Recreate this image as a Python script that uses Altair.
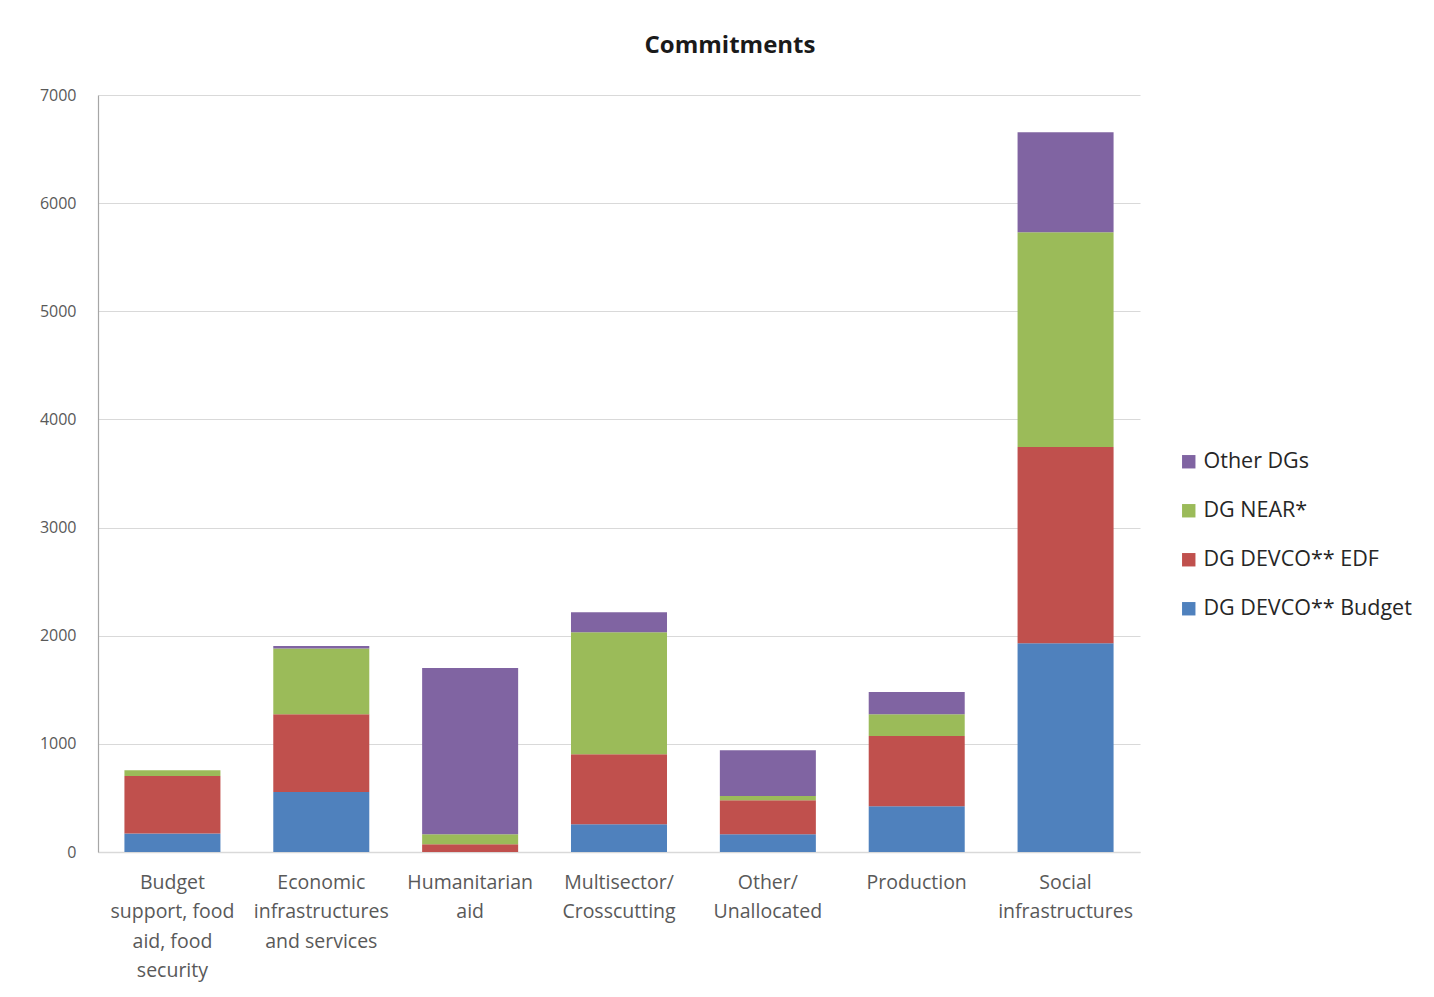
import altair as alt
import pandas as pd

categories = [
    "Budget|support, food|aid, food|security",
    "Economic|infrastructures|and services",
    "Humanitarian|aid",
    "Multisector/|Crosscutting",
    "Other/|Unallocated",
    "Production",
    "Social|infrastructures",
]
series = ["DG DEVCO** Budget", "DG DEVCO** EDF", "DG NEAR*", "Other DGs"]
devco_budget = [170, 555, 0, 256, 164, 423, 1931]
devco_edf = [533, 718, 71, 647, 314, 650, 1813]
near = [52, 608, 93, 1129, 40, 200, 1988]
other = [0, 24, 1538, 185, 422, 207, 923]
colors = ["#4F81BD", "#C0504D", "#9BBB59", "#8064A2"]

rows = []
for s_i, (name, vals) in enumerate(zip(series, [devco_budget, devco_edf, near, other])):
    for c, v in zip(categories, vals):
        rows.append({"category": c, "series": name, "value": v, "order": s_i})
df = pd.DataFrame(rows)

FONT = "Open Sans"

chart = alt.Chart(df).mark_bar().encode(
    x=alt.X("category:N", sort=categories, title=None,
            scale=alt.Scale(paddingInner=0.355, paddingOuter=0.1775),
            axis=alt.Axis(labelAngle=0, labelExpr="split(datum.label, '|')",
                          labelLineHeight=29.5, labelFontSize=19.5, labelColor="#595959",
                          labelFont=FONT, labelPadding=21, ticks=False,
                          labelOverlap=False, labelBound=False,
                          domainColor="#D9D9D9", domainWidth=1.5, labelBaseline="top")),
    y=alt.Y("value:Q", stack="zero", title=None,
            scale=alt.Scale(domain=[0, 7000]),
            axis=alt.Axis(values=list(range(0, 7001, 1000)), format="d", ticks=False,
                          labelFontSize=16, labelColor="#595959", labelFont=FONT,
                          labelPadding=22, gridColor="#D9D9D9", gridWidth=1.2,
                          domainColor="#A6A6A6", domainWidth=1.2)),
    color=alt.Color("series:N", scale=alt.Scale(domain=series, range=colors),
                    legend=alt.Legend(title=None, orient="none", legendX=1080, legendY=356,
                                      values=series[::-1], symbolType="square",
                                      symbolSize=180, symbolStrokeWidth=0,
                                      labelFontSize=21.5, labelFont=FONT, labelColor="#262626",
                                      rowPadding=26, labelOffset=4, labelLimit=400)),
    order=alt.Order("order:Q"),
).properties(
    width=1042,
    height=757,
    title=alt.TitleParams("Commitments", fontSize=24, font=FONT, fontWeight="bold",
                          color="#1a1a1a", anchor="middle", dx=111, offset=29),
    autosize=alt.AutoSizeParams(type="none"),
    padding={"left": 90, "top": 87, "right": 286, "bottom": 135},
).configure_view(stroke=None)

chart.save("out.html", embed_options={"renderer": "svg", "actions": False})
